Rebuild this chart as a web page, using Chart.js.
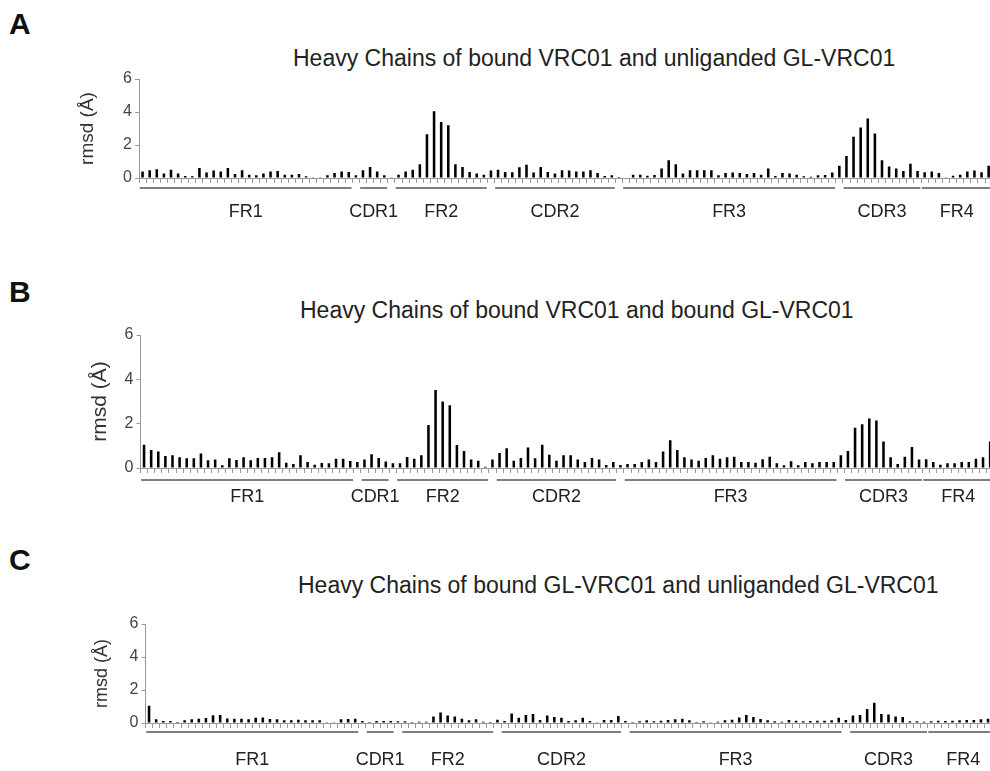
<!DOCTYPE html>
<html>
<head>
<meta charset="utf-8">
<script src="https://cdn.jsdelivr.net/npm/chart.js@4"></script>
<style>
  html, body { margin: 0; padding: 0; background: #fff; overflow: hidden; width: 990px; height: 771px; }
  body { position: relative; font-family: "Liberation Sans", Arial, sans-serif; }
  .letter { position: absolute; left: 9px; font-size: 30px; font-weight: bold; line-height: 30px; color: #111; }
  .title { position: absolute; font-size: 23px; line-height: 23px; color: #222; white-space: nowrap; }
  canvas { position: absolute; left: 0; }
</style>
</head>
<body>
<div class="letter" style="top:9px">A</div>
<div class="title" style="left:293px;top:47px">Heavy Chains of bound VRC01 and unliganded GL-VRC01</div>
<canvas id="chartA"></canvas>

<div class="letter" style="top:277px">B</div>
<div class="title" style="left:300px;top:299px">Heavy Chains of bound VRC01 and bound GL-VRC01</div>
<canvas id="chartB"></canvas>

<div class="letter" style="top:545px">C</div>
<div class="title" style="left:298px;top:574px">Heavy Chains of bound GL-VRC01 and unliganded GL-VRC01</div>
<canvas id="chartC"></canvas>

<script>
// residue positions along the heavy chain
const residues = Array.from({ length: 120 }, (_, i) => String(i + 1));

// rmsd (Å) per residue
const rmsdA = [
  0.4, 0.47, 0.53, 0.27, 0.5, 0.27, 0.12, 0.1, 0.6, 0.33,
  0.45, 0.4, 0.6, 0.25, 0.47, 0.2, 0.16, 0.27, 0.4, 0.43,
  0.2, 0.2, 0.25, 0.1, 0.05, 0.05, 0.16, 0.3, 0.4, 0.37,
  0.16, 0.47, 0.67, 0.4, 0.16, 0.05, 0.2, 0.4, 0.5, 0.83,
  2.65, 4.05, 3.4, 3.2, 0.83, 0.67, 0.37, 0.27, 0.2, 0.45,
  0.5, 0.37, 0.35, 0.65, 0.8, 0.33, 0.67, 0.37, 0.27, 0.47,
  0.45, 0.4, 0.4, 0.47, 0.3, 0.12, 0.16, 0.06, 0.03, 0.2,
  0.2, 0.14, 0.18, 0.57, 1.07, 0.83, 0.27, 0.47, 0.47, 0.47,
  0.47, 0.16, 0.3, 0.33, 0.3, 0.25, 0.3, 0.2, 0.57, 0.12,
  0.3, 0.27, 0.2, 0.1, 0.08, 0.16, 0.18, 0.33, 0.75, 1.33,
  2.5, 3.06, 3.6, 2.7, 1.07, 0.7, 0.57, 0.43, 0.87, 0.43,
  0.35, 0.4, 0.3, 0.05, 0.14, 0.2, 0.4, 0.45, 0.35, 0.75
];

const rmsdB = [
  1.05, 0.81, 0.74, 0.54, 0.57, 0.48, 0.44, 0.44, 0.65, 0.35,
  0.38, 0.12, 0.44, 0.36, 0.48, 0.35, 0.45, 0.45, 0.48, 0.71,
  0.24, 0.18, 0.57, 0.27, 0.15, 0.23, 0.21, 0.42, 0.42, 0.32,
  0.27, 0.38, 0.62, 0.45, 0.29, 0.21, 0.21, 0.5, 0.42, 0.57,
  1.94, 3.52, 3.0, 2.83, 1.04, 0.77, 0.38, 0.33, 0.06, 0.38,
  0.68, 0.89, 0.33, 0.45, 0.92, 0.44, 1.05, 0.6, 0.33, 0.57,
  0.57, 0.38, 0.27, 0.45, 0.38, 0.14, 0.27, 0.14, 0.18, 0.18,
  0.27, 0.38, 0.27, 0.74, 1.25, 0.81, 0.48, 0.38, 0.33, 0.45,
  0.57, 0.42, 0.48, 0.51, 0.27, 0.27, 0.24, 0.39, 0.51, 0.21,
  0.12, 0.3, 0.12, 0.27, 0.21, 0.27, 0.27, 0.27, 0.57, 0.77,
  1.82, 1.97, 2.23, 2.14, 1.2, 0.48, 0.18, 0.51, 0.95, 0.38,
  0.39, 0.27, 0.15, 0.21, 0.21, 0.27, 0.27, 0.42, 0.48, 1.2
];

const rmsdC = [
  1.05, 0.22, 0.12, 0.12, 0.06, 0.16, 0.22, 0.26, 0.3, 0.47,
  0.49, 0.28, 0.26, 0.26, 0.22, 0.32, 0.34, 0.24, 0.22, 0.16,
  0.16, 0.2, 0.16, 0.16, 0.16, 0.04, 0.02, 0.22, 0.24, 0.26,
  0.12, 0.06, 0.12, 0.12, 0.12, 0.1, 0.1, 0.06, 0.08, 0.08,
  0.4, 0.63, 0.45, 0.4, 0.26, 0.16, 0.22, 0.08, 0.06, 0.2,
  0.12, 0.57, 0.32, 0.49, 0.55, 0.18, 0.45, 0.37, 0.32, 0.12,
  0.16, 0.32, 0.12, 0.04, 0.18, 0.18, 0.43, 0.12, 0.06, 0.1,
  0.16, 0.1, 0.14, 0.18, 0.22, 0.26, 0.16, 0.06, 0.1, 0.05,
  0.08, 0.16, 0.2, 0.34, 0.49, 0.37, 0.24, 0.16, 0.1, 0.08,
  0.18, 0.14, 0.1, 0.12, 0.14, 0.14, 0.16, 0.32, 0.18, 0.45,
  0.49, 0.85, 1.22, 0.55, 0.51, 0.39, 0.37, 0.1, 0.1, 0.08,
  0.1, 0.14, 0.12, 0.14, 0.16, 0.18, 0.18, 0.22, 0.26, 0.2
];

// framework / CDR segments (first and last residue of each)
const regionNames = ["FR1", "CDR1", "FR2", "CDR2", "FR3", "CDR3", "FR4"];
const regionFirst = [1, 32, 37, 51, 69, 100, 111];
const regionLast = [30, 35, 49, 67, 98, 110, 120];

const yMax = 6;
const yStep = 2;

Chart.defaults.font.family = '"Liberation Sans", Arial, sans-serif';

// segment lines and names under the x axis
const regionPlugin = {
  id: "regions",
  afterDraw(chart, args, opts) {
    const x = chart.scales.x;
    const ctx = chart.ctx;
    const base = chart.chartArea.bottom;
    ctx.save();
    ctx.strokeStyle = "#555";
    ctx.lineWidth = 1.5;
    ctx.fillStyle = "#222";
    ctx.font = '18px "Liberation Sans", Arial, sans-serif';
    ctx.textAlign = "center";
    ctx.textBaseline = "middle";
    regionNames.forEach((name, i) => {
      const x0 = x.getPixelForValue(regionFirst[i] - 1.4);
      const x1 = x.getPixelForValue(regionLast[i] - 0.6);
      ctx.beginPath();
      ctx.moveTo(x0, base + opts.lineGap);
      ctx.lineTo(x1, base + opts.lineGap);
      ctx.stroke();
      ctx.fillText(name, (x0 + x1) / 2, base + opts.labelGap);
    });
    ctx.restore();
  }
};

const step = 7.11;

function makePanel(id, values, p) {
  const canvas = document.getElementById(id);
  canvas.width = 1010;
  canvas.height = p.plotBottom - p.plotTop + 80;
  canvas.style.top = (p.plotTop - 20) + "px";

  return new Chart(canvas, {
    type: "bar",
    data: {
      labels: residues,
      datasets: [{
        data: values,
        backgroundColor: "#000",
        barPercentage: 0.36,
        categoryPercentage: 1
      }]
    },
    options: {
      responsive: false,
      animation: false,
      layout: {
        padding: { top: 20, left: 0, bottom: 0, right: 1010 - p.plotLeft - residues.length * step }
      },
      plugins: {
        legend: { display: false },
        tooltip: { enabled: false },
        regions: { lineGap: p.lineGap, labelGap: p.labelGap }
      },
      scales: {
        x: {
          grid: { drawOnChartArea: false, tickLength: 5, color: "#999", offset: true },
          border: { color: "#999" },
          ticks: { display: false },
          afterFit(s) { s.height = 60; }
        },
        y: {
          min: 0,
          max: yMax,
          ticks: { stepSize: yStep, color: "#444", font: { size: 16 }, padding: 3 },
          grid: { drawOnChartArea: false, tickLength: 4, color: "#999" },
          border: { color: "#999" },
          title: {
            display: true,
            text: "rmsd (Å)",
            color: "#333",
            font: { size: p.titleSize },
            padding: { top: p.titleCenter - p.titleSize * 0.6, bottom: 0 }
          },
          afterFit(s) { s.width = p.plotLeft; }
        }
      }
    },
    plugins: [regionPlugin]
  });
}

makePanel("chartA", rmsdA, { plotLeft: 139, plotTop: 79, plotBottom: 178, titleSize: 19, titleCenter: 88, lineGap: 10, labelGap: 34 });
makePanel("chartB", rmsdB, { plotLeft: 140.5, plotTop: 335, plotBottom: 468, titleSize: 21, titleCenter: 100, lineGap: 12, labelGap: 29 });
makePanel("chartC", rmsdC, { plotLeft: 145.5, plotTop: 624, plotBottom: 723, titleSize: 18, titleCenter: 102, lineGap: 9, labelGap: 37 });
</script>
</body>
</html>
